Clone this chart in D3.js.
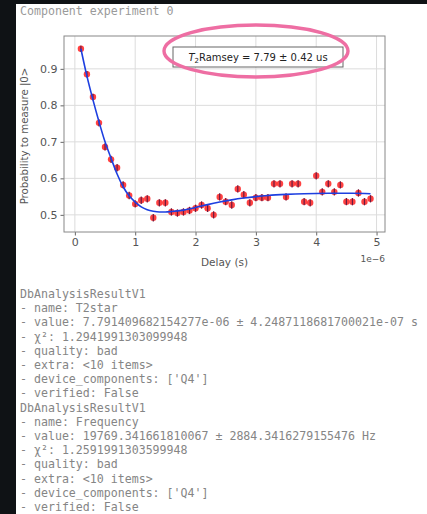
<!DOCTYPE html>
<html><head><meta charset="utf-8">
<script src="https://cdn.jsdelivr.net/npm/d3@7"></script>
<style>
html,body{margin:0;padding:0;background:#0f1215;}
svg{display:block;}
</style></head>
<body>
<svg id="c" width="427" height="514"></svg>
<script>
// ---- data (x in units of 1e-6 s) ----
const delays = [0.1,0.2,0.3,0.4,0.5,0.6,0.7,0.8,0.9,1.0,1.1,1.2,1.3,1.4,1.5,1.6,1.7,1.8,1.9,2.0,2.1,2.2,2.3,2.4,2.5,2.6,2.7,2.8,2.9,3.0,3.1,3.2,3.3,3.4,3.5,3.6,3.7,3.8,3.9,4.0,4.1,4.2,4.3,4.4,4.5,4.6,4.7,4.8,4.9];
const probs = [0.955,0.885,0.823,0.752,0.686,0.652,0.629,0.582,0.553,0.530,0.540,0.544,0.492,0.533,0.533,0.508,0.505,0.508,0.512,0.518,0.527,0.518,0.500,0.549,0.536,0.527,0.571,0.555,0.533,0.547,0.547,0.547,0.585,0.585,0.549,0.585,0.585,0.536,0.533,0.607,0.563,0.585,0.563,0.582,0.536,0.536,0.560,0.536,0.544];
const errs = [0.008,0.009,0.009,0.010,0.010,0.010,0.010,0.010,0.010,0.010,0.010,0.010,0.010,0.010,0.010,0.010,0.010,0.010,0.010,0.010,0.010,0.010,0.010,0.010,0.010,0.010,0.010,0.010,0.010,0.010,0.010,0.010,0.010,0.010,0.010,0.010,0.010,0.010,0.010,0.010,0.010,0.010,0.010,0.010,0.010,0.010,0.010,0.010,0.010];
const fitX = [0.1,0.2,0.3,0.4,0.5,0.6,0.7,0.8,0.9,1.0,1.1,1.2,1.3,1.4,1.5,1.6,1.8,2.0,2.2,2.4,2.6,2.8,3.0,3.2,3.5,3.8,4.2,4.6,4.9];
const fitY = [0.955,0.880,0.815,0.755,0.700,0.655,0.612,0.577,0.552,0.535,0.522,0.514,0.510,0.508,0.508,0.509,0.513,0.520,0.528,0.535,0.541,0.546,0.550,0.553,0.556,0.558,0.559,0.559,0.558];
const xTicks = [0,1,2,3,4,5];
const yTicks = [0.5,0.6,0.7,0.8,0.9];
const legendLabel = "Ramsey = 7.79 ± 0.42 us";
const headerText = "Component experiment 0";
const reportLines = [
 "DbAnalysisResultV1",
 "- name: T2star",
 "- value: 7.791409682154277e-06 ± 4.2487118681700021e-07 s",
 "- χ²: 1.2941991303099948",
 "- quality: bad",
 "- extra: <10 items>",
 "- device_components: ['Q4']",
 "- verified: False",
 "DbAnalysisResultV1",
 "- name: Frequency",
 "- value: 19769.341661810067 ± 2884.3416279155476 Hz",
 "- χ²: 1.2591991303599948",
 "- quality: bad",
 "- extra: <10 items>",
 "- device_components: ['Q4']",
 "- verified: False"
];

const svg = d3.select("#c");
// white panel
svg.append("rect").attr("x",16).attr("y",4).attr("width",411).attr("height",510).attr("fill","#ffffff");

const mono = "'DejaVu Sans Mono','Liberation Mono',monospace";
svg.append("text").attr("x",20).attr("y",15).attr("font-family",mono).attr("font-size",11.6)
  .attr("fill","#9a9a9a").text(headerText);

const L=64,R=385,T=36,B=232;
const x = d3.scaleLinear().domain([-0.18,5.14]).range([L,R]);
const y = d3.scaleLinear().domain([0.453,0.99]).range([B,T]);

// grid
const g = svg.append("g");
g.selectAll(".gx").data(xTicks).join("line")
  .attr("x1",d=>x(d)).attr("x2",d=>x(d)).attr("y1",T).attr("y2",B)
  .attr("stroke","#dcdcdc").attr("stroke-width",1);
g.selectAll(".gy").data(yTicks).join("line")
  .attr("y1",d=>y(d)).attr("y2",d=>y(d)).attr("x1",L).attr("x2",R)
  .attr("stroke","#dcdcdc").attr("stroke-width",1);

// axes
const sans = "'DejaVu Sans',sans-serif";
const xa = svg.append("g").attr("transform",`translate(0,${B})`)
  .call(d3.axisBottom(x).tickValues(xTicks).tickFormat(d3.format("d")).tickSize(3.5).tickPadding(3));
const ya = svg.append("g").attr("transform",`translate(${L},0)`)
  .call(d3.axisLeft(y).tickValues(yTicks).tickFormat(d3.format(".1f")).tickSize(3.5).tickPadding(3));
[xa,ya].forEach(a=>{
  a.select(".domain").remove();
  a.selectAll("line").attr("stroke","#666");
  a.selectAll("text").attr("font-family",sans).attr("font-size",11).attr("fill","#555");
});
svg.append("rect").attr("x",L).attr("y",T).attr("width",R-L).attr("height",B-T)
  .attr("fill","none").attr("stroke","#888").attr("stroke-width",1);

// labels
svg.append("text").attr("x",(L+R)/2).attr("y",266).attr("text-anchor","middle")
  .attr("font-family",sans).attr("font-size",10.5).attr("fill","#555").text("Delay (s)");
svg.append("text").attr("x",R).attr("y",262).attr("text-anchor","end")
  .attr("font-family",sans).attr("font-size",9).attr("fill","#555").text("1e−6");
svg.append("text").attr("transform",`translate(28,${(T+B)/2+2}) rotate(-90)`).attr("text-anchor","middle")
  .attr("font-family",sans).attr("font-size",10.2).attr("fill","#555").text("Probability to measure |0>");

// error bars + points
const pts = delays.map((d,i)=>({x:d,y:probs[i],e:errs[i]}));
svg.append("g").selectAll("circle").data(pts).join("circle")
  .attr("cx",d=>x(d.x)).attr("cy",d=>y(d.y)).attr("r",3.2)
  .attr("fill","#ff2020").attr("fill-opacity",0.85);
svg.append("g").selectAll("line").data(pts).join("line")
  .attr("x1",d=>x(d.x)).attr("x2",d=>x(d.x)).attr("y1",d=>y(d.y-d.e)).attr("y2",d=>y(d.y+d.e))
  .attr("stroke","#6a1a40").attr("stroke-width",1.2);

// fit line
const line = d3.line().x(d=>x(d[0])).y(d=>y(d[1])).curve(d3.curveMonotoneX);
svg.append("path").datum(fitX.map((v,i)=>[v,fitY[i]])).attr("d",line)
  .attr("fill","none").attr("stroke","#1d3fe0").attr("stroke-width",1.6);

// legend box
const lg = svg.append("g");
lg.append("rect").attr("x",173).attr("y",47).attr("width",170).attr("height",20)
  .attr("fill","#fff").attr("stroke","#666").attr("stroke-width",1);
const lt = lg.append("text").attr("x",258).attr("y",61).attr("text-anchor","middle")
  .attr("font-family",sans).attr("font-size",10).attr("fill","#222");
lt.append("tspan").attr("font-style","italic").text("T");
lt.append("tspan").attr("font-size",7).attr("dy",2).text("2");
lt.append("tspan").attr("dy",-2).text(legendLabel);

// pink annotation ellipse
svg.append("ellipse").attr("cx",256).attr("cy",51).attr("rx",92).attr("ry",26)
  .attr("fill","none").attr("stroke","#ee6ea3").attr("stroke-width",3.4);

// report text
svg.append("g").selectAll("text").data(reportLines).join("text")
  .attr("x",20).attr("y",(d,i)=>298+i*14.2)
  .attr("font-family",mono).attr("font-size",11.6).attr("fill","#858585")
  .attr("xml:space","preserve").text(d=>d);
</script>
</body></html>
